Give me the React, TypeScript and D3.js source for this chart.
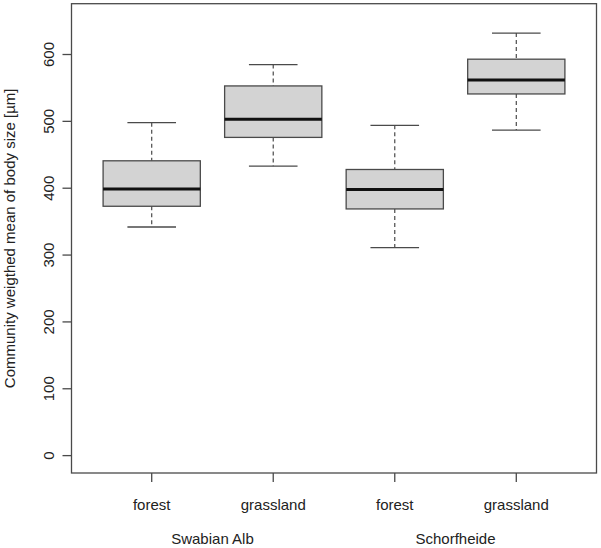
import React from "react";
import * as d3 from "d3";

const groups = ["forest", "grassland", "forest", "grassland"];
const regions = ["Swabian Alb", "Schorfheide"];
const whiskerLow = [342, 433, 311, 487];
const q1 = [373, 476, 369, 541];
const median = [399, 503, 398, 562];
const q3 = [441, 553, 428, 593];
const whiskerHigh = [498, 585, 494, 632];
const yTicks = [0, 100, 200, 300, 400, 500, 600];

const W = 601;
const H = 548;
const left = 71.5;
const right = 596.5;
const top = 3.7;
const bottom = 473;

export default function App() {
  const x = d3.scaleLinear().domain([0.34, 4.66]).range([left, right]);
  const y = d3.scaleLinear().domain([-26, 676]).range([bottom, top]);
  const font = "'Liberation Sans', Arial, sans-serif";
  const stroke = "#4a4a4a";
  const boxW = 0.4;
  const capW = 0.2;

  return (
    <svg
      width={W}
      height={H}
      style={{ position: "absolute", left: 0, top: 0, background: "#fff" }}
      fontFamily={font}
    >
      <rect x={0} y={0} width={W} height={H} fill="#fff" />
      {groups.map((g, i) => {
        const c = x(i + 1);
        return (
          <g key={i}>
            <line x1={c} x2={c} y1={y(whiskerHigh[i])} y2={y(q3[i])} stroke={stroke} strokeWidth={1.2} strokeDasharray="4,3" />
            <line x1={c} x2={c} y1={y(q1[i])} y2={y(whiskerLow[i])} stroke={stroke} strokeWidth={1.2} strokeDasharray="4,3" />
            <line x1={x(i + 1 - capW)} x2={x(i + 1 + capW)} y1={y(whiskerHigh[i])} y2={y(whiskerHigh[i])} stroke={stroke} strokeWidth={1.3} />
            <line x1={x(i + 1 - capW)} x2={x(i + 1 + capW)} y1={y(whiskerLow[i])} y2={y(whiskerLow[i])} stroke={stroke} strokeWidth={1.3} />
            <rect
              x={x(i + 1 - boxW)}
              y={y(q3[i])}
              width={x(i + 1 + boxW) - x(i + 1 - boxW)}
              height={y(q1[i]) - y(q3[i])}
              fill="#d3d3d3"
              stroke={stroke}
              strokeWidth={1.3}
            />
            <line x1={x(i + 1 - boxW)} x2={x(i + 1 + boxW)} y1={y(median[i])} y2={y(median[i])} stroke="#111" strokeWidth={3} />
          </g>
        );
      })}
      <rect x={left} y={top} width={right - left} height={bottom - top} fill="none" stroke={stroke} strokeWidth={1.3} />
      {yTicks.map((t) => (
        <g key={t}>
          <line x1={left - 9} x2={left} y1={y(t)} y2={y(t)} stroke={stroke} strokeWidth={1.3} />
          <text
            transform={`translate(54,${y(t)}) rotate(-90)`}
            textAnchor="middle"
            fontSize={15}
            fill="#222"
          >
            {t}
          </text>
        </g>
      ))}
      {groups.map((g, i) => (
        <g key={"x" + i}>
          <line x1={x(i + 1)} x2={x(i + 1)} y1={bottom} y2={bottom + 9} stroke={stroke} strokeWidth={1.3} />
          <text x={x(i + 1)} y={510} textAnchor="middle" fontSize={15} fill="#222">
            {g}
          </text>
        </g>
      ))}
      {regions.map((r, j) => (
        <text key={r} x={(x(2 * j + 1) + x(2 * j + 2)) / 2} y={544} textAnchor="middle" fontSize={15} fill="#222">
          {r}
        </text>
      ))}
      <text
        transform={`translate(15,${(top + bottom) / 2}) rotate(-90)`}
        textAnchor="middle"
        fontSize={15}
        fill="#222"
      >
        Community weigthed mean of body size [µm]
      </text>
    </svg>
  );
}
